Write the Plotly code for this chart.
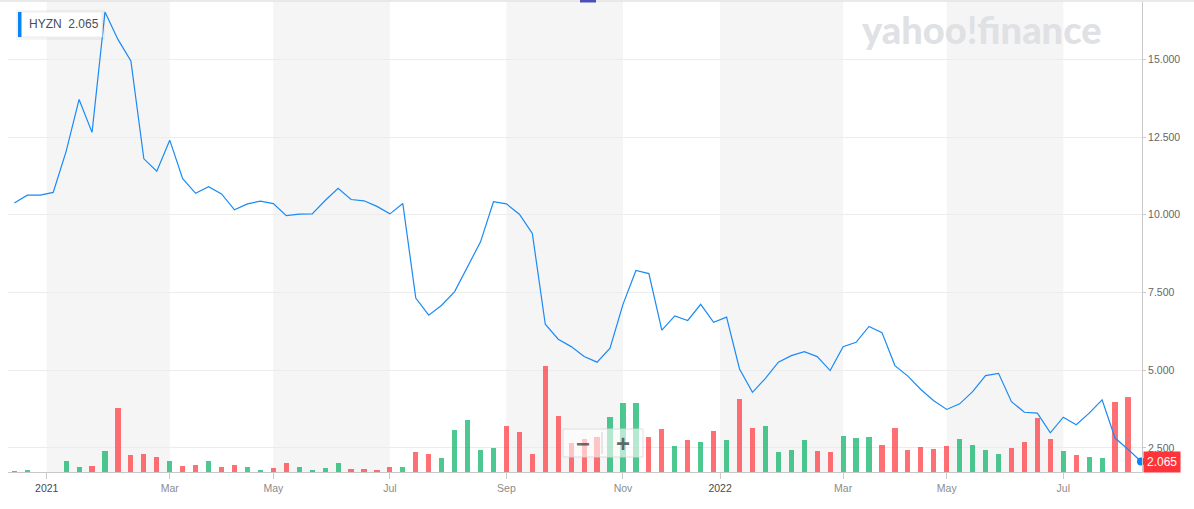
import plotly.graph_objects as go

# ---------------- data ----------------
ticker = "HYZN"
last_price = 2.065

# weekly closing prices (one point per week, Dec 2020 .. Aug 2022)
close = [
    10.38, 10.63, 10.63, 10.72, 12.04, 13.71, 12.65, 16.52, 15.64, 14.95,
    11.80, 11.40, 12.40, 11.16, 10.69, 10.90, 10.67, 10.16, 10.35, 10.44,
    10.36, 9.97, 10.02, 10.03, 10.46, 10.85, 10.49, 10.45, 10.27, 10.03,
    10.36, 7.32, 6.77, 7.09, 7.53, 8.33, 9.13, 10.42, 10.35, 10.02,
    9.40, 6.48, 6.00, 5.76, 5.44, 5.26, 5.71, 7.12, 8.21, 8.11,
    6.29, 6.75, 6.60, 7.12, 6.54, 6.71, 5.04, 4.29, 4.74, 5.26,
    5.47, 5.60, 5.44, 4.99, 5.76, 5.90, 6.41, 6.21, 5.15, 4.81,
    4.38, 4.02, 3.74, 3.92, 4.31, 4.83, 4.90, 3.99, 3.65, 3.62,
    2.99, 3.49, 3.25, 3.62, 4.05, 2.82, 2.46, 2.065,
]

# weekly volume, millions of shares (last point has no bar yet)
volume_m = [
    0.65, 1.15, 0.15, 0.15, 5.65, 2.5, 3.0, 10.5, 32.0, 8.5,
    9.0, 7.5, 5.5, 3.0, 3.5, 5.5, 2.5, 3.5, 2.5, 1.0,
    2.0, 4.65, 2.5, 1.0, 2.0, 4.5, 1.5, 1.5, 1.0, 2.5,
    2.5, 10.15, 9.15, 7.15, 21.0, 26.15, 11.15, 12.0, 23.15, 20.15,
    9.15, 53.15, 28.15, 14.65, 16.5, 17.65, 27.65, 34.5, 34.5, 17.65,
    21.5, 13.15, 16.0, 15.0, 20.5, 16.0, 36.5, 22.0, 23.0, 10.0,
    11.0, 16.0, 10.65, 10.15, 18.0, 17.0, 17.5, 13.65, 22.0, 11.15,
    12.5, 11.5, 13.15, 16.5, 13.65, 11.0, 9.0, 12.0, 15.0, 27.0,
    16.5, 10.5, 8.65, 7.5, 7.0, 35.0, 37.65, None,
]

# week index at which each month label starts, and the labels
month_pos = [2.5, 12, 20, 29, 38, 47, 54.5, 64, 72, 81]
month_labels = ["2021", "Mar", "May", "Jul", "Sep", "Nov", "2022", "Mar", "May", "Jul"]

price_ticks = [2.5, 5.0, 7.5, 10.0, 12.5, 15.0]

# ---------------- styling ----------------
UP = "rgba(0,176,97,0.7)"
DOWN = "rgba(255,51,58,0.7)"
LINE = "#1a8af5"
BAND = "#f5f5f5"
GRID = "#ececec"
AXIS = "#c9c9c9"
FONT = "Liberation Sans, Arial, sans-serif"

idx = list(range(len(close)))
bar_colors = [UP if i == 0 or close[i] >= close[i - 1] else DOWN for i in idx]

fig = go.Figure()

fig.add_trace(go.Bar(
    x=idx, y=volume_m, marker=dict(color=bar_colors, line=dict(width=0)),
    width=0.4, yaxis="y", hoverinfo="skip", showlegend=False,
))
fig.add_trace(go.Scatter(
    x=idx, y=close, mode="lines", line=dict(color=LINE, width=1.2),
    yaxis="y2", showlegend=False, hoverinfo="skip",
))
fig.add_trace(go.Scatter(
    x=[idx[-1]], y=[close[-1]], mode="markers",
    marker=dict(color="#0a84f5", size=8), yaxis="y2",
    showlegend=False, hoverinfo="skip", cliponaxis=False,
))

# alternating month bands
shapes = []
for k in range(0, len(month_pos) - 1, 2):
    shapes.append(dict(type="rect", xref="x", yref="paper",
                       x0=month_pos[k], x1=month_pos[k + 1], y0=0, y1=1,
                       fillcolor=BAND, line=dict(width=0), layer="below"))

W = 1134.0  # plot width px
H = 471.0   # plot height px
L0, T0 = 8.0, 1.0


def px(xp):
    return (xp - L0) / W


def py(yp):
    return (T0 + H - yp) / H


# top border line & small indicator
shapes.append(dict(type="line", xref="paper", yref="paper",
                   x0=px(0), x1=px(1194), y0=py(1), y1=py(1),
                   line=dict(color="#e2e2e2", width=1.5), layer="above"))
shapes.append(dict(type="rect", xref="paper", yref="paper",
                   x0=px(580), x1=px(596), y0=py(2.5), y1=py(-1),
                   fillcolor="#4a50b5", line=dict(width=0), layer="above"))

# legend box (shadow + box + blue bar)
shapes.append(dict(type="rect", xref="paper", yref="paper",
                   x0=px(16), x1=px(105), y0=py(40), y1=py(10),
                   fillcolor="rgba(0,0,0,0.04)", line=dict(width=0), layer="above"))
shapes.append(dict(type="rect", xref="paper", yref="paper",
                   x0=px(18), x1=px(102), y0=py(37), y1=py(12),
                   fillcolor="white", line=dict(color="#ececec", width=1), layer="above"))
shapes.append(dict(type="rect", xref="paper", yref="paper",
                   x0=px(18), x1=px(21.5), y0=py(37), y1=py(12),
                   fillcolor="#0a84f5", line=dict(width=0), layer="above"))

# zoom control
shapes.append(dict(type="rect", xref="paper", yref="paper",
                   x0=px(563), x1=px(643), y0=py(457), y1=py(429),
                   fillcolor="rgba(255,255,255,0.6)",
                   line=dict(color="rgba(215,215,215,0.8)", width=1), layer="above"))
shapes.append(dict(type="line", xref="paper", yref="paper",
                   x0=px(602), x1=px(602), y0=py(454), y1=py(432),
                   line=dict(color="rgba(200,200,200,0.8)", width=1), layer="above"))

annotations = [
    dict(xref="paper", yref="paper", x=px(27), y=py(24.5), xanchor="left", yanchor="middle",
         text=f"{ticker}&nbsp;&nbsp;{last_price:.3f}", showarrow=False,
         font=dict(family=FONT, size=12, color="#464e56")),
    dict(xref="paper", yref="paper", x=px(982), y=py(29), xanchor="center", yanchor="middle",
         text="yahoo<b>!</b>finance", showarrow=False,
         font=dict(family="Lato, Liberation Sans, sans-serif", size=38, color="#dfe1e5", weight=900)),
    dict(xref="paper", yref="y2", x=1, y=close[-1], xanchor="left", yanchor="middle",
         xshift=1, text=f"{last_price:.3f}", showarrow=False, bgcolor="#ff333a",
         borderpad=3, font=dict(family=FONT, size=12, color="white")),
    dict(xref="paper", yref="paper", x=px(583), y=py(443), xanchor="center", yanchor="middle",
         text="<b>\u2212</b>", showarrow=False,
         font=dict(family=FONT, size=24, color="rgba(80,80,80,0.85)")),
    dict(xref="paper", yref="paper", x=px(623), y=py(443), xanchor="center", yanchor="middle",
         text="<b>+</b>", showarrow=False,
         font=dict(family=FONT, size=24, color="rgba(80,80,80,0.85)")),
]

tick_text = [
    (f'<span style="color:#4a4a4a">{m}</span>' if m.isdigit()
     else f'<span style="color:#8c8c8c">{m}</span>')
    for m in month_labels
]

fig.update_layout(
    width=1194, height=509,
    margin=dict(l=8, r=52, t=1, b=37),
    paper_bgcolor="white", plot_bgcolor="white",
    bargap=0, showlegend=False,
    font=dict(family=FONT, size=11, color="#666"),
    xaxis=dict(
        range=[-0.49, 87.08], showgrid=False, zeroline=False,
        tickmode="array", tickvals=month_pos, ticktext=tick_text,
        ticks="outside", ticklen=6, tickcolor=AXIS,
        showline=True, linecolor=AXIS, linewidth=1,
        tickfont=dict(family=FONT, size=10.5, color="#8c8c8c"),
    ),
    yaxis=dict(
        range=[0, 235.5], visible=False, showgrid=False, fixedrange=True,
    ),
    yaxis2=dict(
        overlaying="y", side="right", range=[1.728, 16.875],
        tickmode="array", tickvals=price_ticks, tickformat=".3f",
        showgrid=True, gridcolor=GRID, gridwidth=1, zeroline=False,
        ticks="outside", ticklen=3, tickcolor=AXIS,
        showline=True, linecolor=AXIS, linewidth=1,
        tickfont=dict(family=FONT, size=10.5, color="#666"),
    ),
    shapes=shapes,
    annotations=annotations,
)

fig.write_html(
    "out.html",
    config={"displayModeBar": False},
    post_script="document.body.style.margin='0';",
)
